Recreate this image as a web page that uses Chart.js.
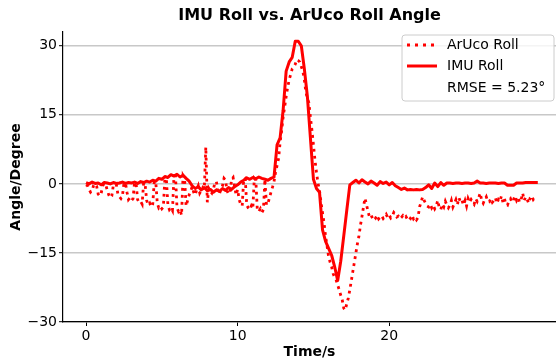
<!DOCTYPE html>
<html>
<head>
<meta charset="utf-8">
<script src="https://cdn.jsdelivr.net/npm/chart.js@4.4.1/dist/chart.umd.min.js"></script>
<style>
html,body{margin:0;padding:0;background:#fff;}
#wrap{width:556px;height:364px;position:relative;}
</style>
</head>
<body>
<div id="wrap"><canvas id="c" width="556" height="364"></canvas></div>
<script>
// ---- data ----
const chartTitle = "IMU Roll vs. ArUco Roll Angle";
const xTitle = "Time/s";
const yTitle = "Angle/Degree";
const xTicks = [0, 10, 20];
const yTicks = [-30, -15, 0, 15, 30];
const legendLabels = ["ArUco Roll", "IMU Roll", "RMSE = 5.23°"];

// IMU roll, sampled every 0.2 s starting at t = 0
const imuStep = 0.2;
const imuRoll = [
  0.3, 0.0, 0.4, 0.1, 0.2,
  -0.2, 0.3, 0.2, 0.0, 0.3,
  0.1, 0.2, 0.4, 0.1, 0.3,
  0.2, 0.4, 0.1, 0.5, 0.3,
  0.6, 0.4, 0.8, 0.6, 1.2,
  1.0, 1.6, 1.4, 2.0, 1.7,
  2.1, 1.5, 1.9, 1.2, 0.6,
  -0.4, -1.0, -0.6, -1.3, -0.8,
  -1.5, -1.2, -1.8, -1.3, -1.6,
  -1.0, -1.4, -0.8, -1.2, -0.6,
  -0.2, 0.4, 0.8, 1.3, 1.0,
  1.4, 1.1, 1.5, 1.2, 1.0,
  0.8, 1.2, 1.5, 8.5, 10.0,
  16.0, 24.5, 26.5, 27.5, 31.0,
  31.0, 30.0, 25.0, 19.0, 10.0,
  1.0, -1.0, -1.8, -10.0, -12.5,
  -14.0, -15.5, -18.0, -21.0, -16.8,
  -11.3, -5.7, -0.2, 0.3, 0.8,
  0.2, 0.9, 0.4, 0.0, 0.6,
  0.2, -0.3, 0.5, 0.1, 0.4,
  -0.2, 0.3, -0.4, -0.8, -1.2,
  -0.9, -1.3, -1.2, -1.3, -1.2,
  -1.3, -1.2, -0.8, -0.2, -1.0,
  0.2, -0.6, 0.3, -0.3, 0.2,
  0.2, 0.1, 0.2, 0.2, 0.1,
  0.2, 0.2, 0.1, 0.2, 0.6,
  0.2, 0.2, 0.1, 0.2, 0.2,
  0.2, 0.1, 0.2, 0.2, -0.3,
  -0.3, -0.3, 0.2, 0.2, 0.2,
  0.3, 0.3, 0.3, 0.3, 0.3
];

// ArUco roll, sampled every 0.1 s starting at t = 0
const arucoStep = 0.1;
const arucoRoll = [
  -0.2, -0.4, -1.2, -1.8, -1.5, -0.3, 0.0, -0.5, -2.2, -2.6,
  -2.0, -0.4, 0.1, -0.2, -1.4, -2.4, -3.0, -2.6, -0.3, 0.0,
  -0.2, -2.2, -2.8, -3.2, -2.6, 0.1, 0.2, -1.8, -3.4, -3.0,
  -3.6, -3.2, 0.3, 0.2, -3.4, -4.0, -3.8, -4.4, 0.3, -0.2,
  -3.6, -4.6, -4.2, -5.0, -4.4, 0.6, 0.4, -4.2, -5.2, -4.8,
  -5.4, -5.0, 1.2, 1.0, -4.6, -5.6, -5.2, -5.8, 1.6, 1.8,
  -5.2, -6.0, -5.6, -6.8, 1.8, 1.2, -4.8, -3.6, -2.4, -1.6,
  -0.6, -1.8, -2.4, -1.2, -0.4, -2.0, -1.4, -0.8, -1.2, 8.0,
  -4.0, -1.0, -1.6, -2.0, -1.2, 0.3, 0.5, -1.8, -2.2, -1.0,
  -0.4, 1.2, 0.8, -1.5, -2.2, -1.8, 1.0, 1.4, -0.6, -2.4,
  -1.2, -3.4, -4.4, -4.8, 1.0, 1.2, -4.6, -5.2, -5.6, -4.8,
  -5.4, 1.2, 0.8, -5.8, -6.0, -5.4, -6.2, -5.6, 1.0, -4.6,
  -4.2, -3.0, -1.8, -0.7, 0.5, 2.5, 4.0, 5.5, 9.0, 11.5,
  14.5, 16.7, 19.0, 21.0, 22.6, 23.8, 25.0, 25.4, 26.0, 27.0,
  26.8, 26.5, 25.5, 24.5, 22.6, 20.0, 18.5, 17.6, 14.5, 11.7,
  8.5, 5.2, 2.5, 0.2, -1.5, -4.0, -6.3, -8.5, -11.4, -13.5,
  -15.8, -17.0, -18.0, -19.5, -20.3, -20.9, -22.0, -23.0, -24.2, -25.2,
  -27.0, -27.4, -26.0, -24.8, -23.0, -21.0, -19.0, -17.0, -15.0, -13.0,
  -11.4, -9.0, -7.1, -5.0, -3.1, -4.5, -6.0, -7.2, -6.8, -7.5,
  -7.0, -7.4, -6.8, -7.6, -7.2, -6.9, -7.5, -7.1, -6.6, -7.3,
  -6.8, -7.4, -7.0, -6.2, -6.6, -7.2, -7.0, -7.6, -7.3, -6.9,
  -7.4, -7.1, -7.7, -7.2, -7.5, -6.8, -7.6, -7.2, -7.8, -7.3,
  -5.0, -4.0, -2.8, -3.6, -4.2, -4.8, -5.0, -4.4, -5.2, -4.6,
  -5.4, -4.8, -3.6, -5.2, -5.6, -4.4, -5.0, -3.8, -4.6, -5.2,
  -4.6, -3.6, -5.0, -4.2, -3.4, -4.4, -3.0, -4.0, -3.6, -4.6,
  -3.6, -4.8, -3.2, -4.0, -3.4, -3.9, -4.4, -3.2, -3.8, -3.0,
  -2.0, -3.6, -4.2, -3.4, -2.8, -3.8, -3.9, -3.2, -4.0, -3.6,
  -3.0, -4.2, -3.4, -3.8, -2.6, -4.0, -3.2, -4.4, -4.6, -3.6,
  -3.2, -4.0, -3.4, -2.6, -3.6, -3.0, -4.0, -3.4, -2.0, -3.6,
  -2.8, -3.4, -4.2, -3.0, -2.6, -3.4, -3.0, -2.8
];

// ---- build ----
const toPoints = (vals, step) => vals.map((v, i) => ({ x: Math.round(i * step * 100) / 100, y: v }));
const RED = '#ff0000';
const FONT = "'DejaVu Sans', sans-serif";
const ARUCO_DASH = [2.8, 4.2];

const titleAndLegend = {
  id: 'titleAndLegend',
  afterDraw(chart) {
    const ctx = chart.ctx;
    const ca = chart.chartArea;
    ctx.save();
    // title
    ctx.fillStyle = '#000';
    ctx.font = "bold 16px " + FONT;
    ctx.textAlign = 'center';
    ctx.textBaseline = 'middle';
    ctx.fillText(chartTitle, (ca.left + ca.right) / 2, 16);
    // legend box
    const bx = 402, by = 35, bw = 152, bh = 66, r = 3;
    ctx.beginPath();
    ctx.moveTo(bx + r, by);
    ctx.lineTo(bx + bw - r, by); ctx.quadraticCurveTo(bx + bw, by, bx + bw, by + r);
    ctx.lineTo(bx + bw, by + bh - r); ctx.quadraticCurveTo(bx + bw, by + bh, bx + bw - r, by + bh);
    ctx.lineTo(bx + r, by + bh); ctx.quadraticCurveTo(bx, by + bh, bx, by + bh - r);
    ctx.lineTo(bx, by + r); ctx.quadraticCurveTo(bx, by, bx + r, by);
    ctx.closePath();
    ctx.fillStyle = 'rgba(255,255,255,0.8)';
    ctx.fill();
    ctx.strokeStyle = '#cccccc';
    ctx.lineWidth = 1;
    ctx.stroke();
    const rows = [45, 66, 88];
    ctx.strokeStyle = RED;
    ctx.lineWidth = 3;
    ctx.setLineDash([3, 5]);
    ctx.beginPath(); ctx.moveTo(407, rows[0]); ctx.lineTo(437, rows[0]); ctx.stroke();
    ctx.setLineDash([]);
    ctx.beginPath(); ctx.moveTo(407, rows[1]); ctx.lineTo(437, rows[1]); ctx.stroke();
    ctx.fillStyle = '#000';
    ctx.font = "14px " + FONT;
    ctx.textAlign = 'left';
    legendLabels.forEach((t, i) => ctx.fillText(t, 447, rows[i]));
    ctx.restore();
  }
};

new Chart(document.getElementById('c'), {
  type: 'line',
  data: {
    datasets: [
      { label: legendLabels[0], data: toPoints(arucoRoll, arucoStep), borderColor: RED, borderWidth: 2.8,
        borderDash: ARUCO_DASH, pointRadius: 0, tension: 0, fill: false, order: 2, borderCapStyle: 'butt' },
      { label: legendLabels[1], data: toPoints(imuRoll, imuStep), borderColor: RED, borderWidth: 3,
        pointRadius: 0, tension: 0, fill: false, order: 1, borderJoinStyle: 'round' }
    ]
  },
  options: {
    responsive: false,
    animation: false,
    parsing: true,
    layout: { padding: { top: 32, right: 0, left: 0, bottom: 0 } },
    plugins: { legend: { display: false }, title: { display: false }, tooltip: { enabled: false } },
    scales: {
      x: {
        type: 'linear', min: -1.52, max: 31.0,
        afterFit(s) { s.height = 42; },
        afterBuildTicks(s) { s.ticks = xTicks.map(v => ({ value: v })); },
        grid: { drawOnChartArea: false, drawTicks: true, tickLength: 4, tickColor: '#000', tickWidth: 1 },
        border: { display: true, color: '#000', width: 1.2 },
        ticks: { color: '#000', font: { family: FONT, size: 14 }, padding: 2, maxRotation: 0 },
        title: { display: true, text: xTitle, color: '#000', font: { family: FONT, size: 14, weight: 'bold' }, padding: { top: 0, bottom: 3 } }
      },
      y: {
        type: 'linear', min: -30, max: 33,
        afterFit(s) { s.width = 63; },
        afterBuildTicks(s) { s.ticks = yTicks.map(v => ({ value: v })); },
        grid: { color: '#c8c8c8', lineWidth: 1.4, drawTicks: true, tickLength: 4, tickColor: '#000', tickWidth: 1 },
        border: { display: true, color: '#000', width: 1.2 },
        ticks: { color: '#000', font: { family: FONT, size: 14 }, padding: 2,
                 callback: v => String(v).replace('-', '\u2212') },
        title: { display: true, text: yTitle, color: '#000', font: { family: FONT, size: 14, weight: 'bold' }, padding: { top: 8, bottom: 0 } }
      }
    }
  },
  plugins: [titleAndLegend]
});
</script>
</body>
</html>
